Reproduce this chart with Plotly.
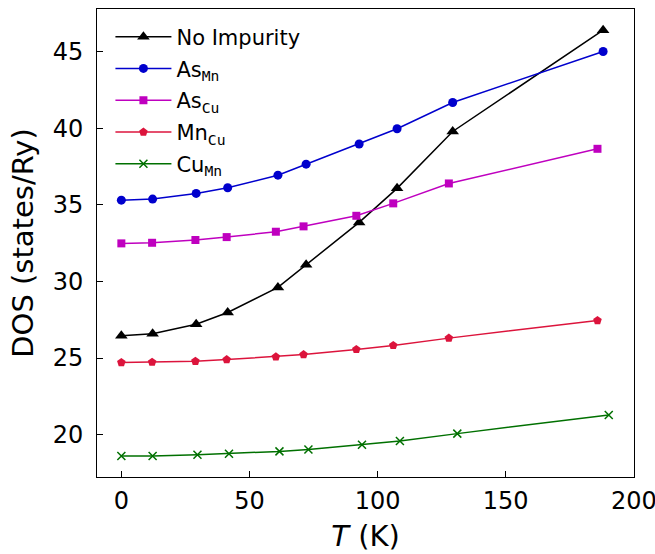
import plotly.graph_objects as go

# Data
t_noimp = [0, 12.2, 29.2, 41.5, 61.1, 72.1, 92.8, 107.6, 129.3, 188.0]
dos_noimp = [26.45, 26.58, 27.21, 27.97, 29.61, 31.09, 33.85, 36.07, 39.78, 46.39]

t_as_mn = [0, 12.2, 29.2, 41.5, 61.1, 72.1, 92.8, 107.6, 129.3, 188.0]
dos_as_mn = [35.30, 35.37, 35.74, 36.11, 36.93, 37.65, 38.96, 39.96, 41.67, 45.00]

t_as_cu = [0, 12.0, 28.9, 41.1, 60.3, 71.1, 91.7, 106.1, 127.8, 185.8]
dos_as_cu = [32.48, 32.52, 32.70, 32.89, 33.24, 33.59, 34.28, 35.09, 36.39, 38.65]

t_mn_cu = [0, 12.0, 28.9, 41.1, 60.3, 71.1, 91.7, 106.1, 127.8, 185.8]
dos_mn_cu = [24.71, 24.73, 24.79, 24.90, 25.08, 25.23, 25.56, 25.82, 26.30, 27.45]

t_cu_mn = [0, 12.2, 29.7, 42.0, 61.7, 73.0, 93.9, 108.7, 131.1, 190.2]
dos_cu_mn = [18.61, 18.61, 18.69, 18.76, 18.91, 19.04, 19.35, 19.59, 20.07, 21.29]

x_ticks = [0, 50, 100, 150, 200]
y_ticks = [20, 25, 30, 35, 40, 45]

MONO = "font-family:'DejaVu Sans Mono'"


def sub(base, s):
    return f"{base}<sub><span style=\"{MONO}\">{s}</span></sub>"


series = [
    ("No Impurity", t_noimp, dos_noimp, "black", "triangle-up", 11),
    (sub("As", "Mn"), t_as_mn, dos_as_mn, "#0000cd", "circle", 9),
    (sub("As", "Cu"), t_as_cu, dos_as_cu, "#bf00bf", "square", 8),
    (sub("Mn", "Cu"), t_mn_cu, dos_mn_cu, "#dc143c", "pentagon", 9),
    (sub("Cu", "Mn"), t_cu_mn, dos_cu_mn, "#007000", "x-thin-open", 8),
]

fig = go.Figure()
for i, (name, x, y, color, sym, size) in enumerate(series):
    fig.add_trace(go.Scatter(
        x=x, y=y, mode="lines+markers", name=name, legendgroup=f"g{i}",
        line=dict(color=color, width=1.5),
        marker=dict(symbol=sym, size=size, color=color,
                    line=dict(color=color, width=1.5 if "x" in sym else 0)),
    ))

axis_common = dict(
    showline=True, linecolor="black", linewidth=1, mirror=True,
    ticks="inside", ticklen=6, tickwidth=1, tickcolor="black",
    showgrid=False, zeroline=False, automargin=False,
    ticklabeloverflow="allow",
    tickfont=dict(size=24, color="black"),
)

fig.update_layout(
    width=655, height=554,
    margin=dict(l=97, r=21, t=9, b=77),
    paper_bgcolor="white", plot_bgcolor="white",
    font=dict(family="DejaVu Sans", color="black"),
    xaxis=dict(range=[-9.5, 200.05], tickvals=x_ticks,
               title=dict(text="<i>T</i> (K)", font=dict(size=29), standoff=11),
               ticklabelstandoff=2, **axis_common),
    yaxis=dict(range=[17.24, 47.77], tickvals=y_ticks,
               title=dict(text="DOS (states/Ry)", font=dict(size=29), standoff=10),
               ticklabelstandoff=8, **axis_common),
    legend=dict(x=0.025, y=0.984, xanchor="left", yanchor="top",
                bgcolor="rgba(0,0,0,0)", borderwidth=0,
                traceorder="grouped", tracegroupgap=1.5,
                font=dict(size=21, color="black"), itemwidth=56),
    showlegend=True,
)

fig.write_html("out.html", config={"displayModeBar": False},
               post_script="document.body.style.margin='0';")
